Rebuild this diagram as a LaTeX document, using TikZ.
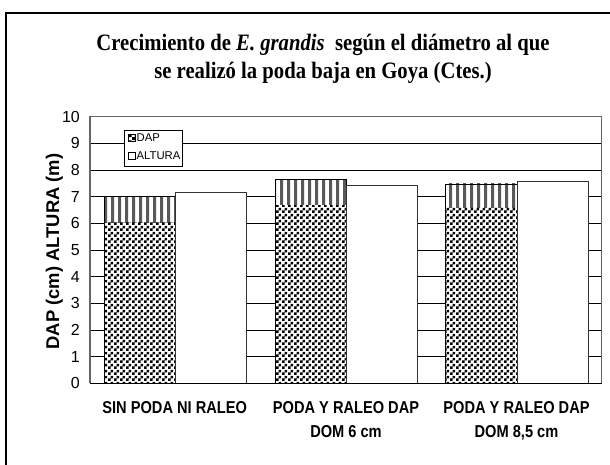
\documentclass[tikz,border=0pt]{standalone}
\usepackage{fontspec}
\usetikzlibrary{patterns}
\newfontfamily\tserif{Liberation Serif}[FakeStretch=0.88]
\newfontfamily\tsans{Liberation Sans}[FakeStretch=0.85]
\newfontfamily\tsansr{Liberation Sans}
\pgfdeclarepatternformonly{chk}{\pgfpointorigin}{\pgfpoint{6pt}{6pt}}{\pgfpoint{6pt}{6pt}}{%
 \pgfpathrectangle{\pgfpointorigin}{\pgfpoint{3pt}{3pt}}%
 \pgfpathrectangle{\pgfpoint{3pt}{3pt}}{\pgfpoint{3pt}{3pt}}%
 \pgfusepath{fill}}
\pgfdeclarepatternformonly{vstr}{\pgfpointorigin}{\pgfpoint{6.5pt}{1pt}}{\pgfpoint{6.5pt}{1pt}}{%
 \pgfpathrectangle{\pgfpointorigin}{\pgfpoint{3.4pt}{1pt}}\pgfusepath{fill}}
\tikzset{
  grid line/.style={black, line width=0.8pt},
  axis gray/.style={draw=black!60, line width=1.3pt},
  tick label/.style={anchor=east, inner sep=0pt, font=\tsansr\fontsize{16}{18}\selectfont},
  cat label/.style={align=center, inner sep=0pt, font=\tsans\bfseries\fontsize{17.2}{24}\selectfont},
  dap bar/.style={preaction={fill=white}, pattern=chk, pattern color=black},
  top bar/.style={preaction={fill=white}, pattern=vstr, pattern color=black},
  bar outline/.style={draw=black, line width=0.8pt},
  alt bar/.style={fill=white, draw=black!80, line width=0.9pt},
  legend text/.style={anchor=west, inner sep=0pt, font=\tsansr\fontsize{11.3}{13}\selectfont},
}
\begin{document}
\begin{tikzpicture}[x=1pt,y=1pt]
\useasboundingbox (0,0) rectangle (610,464);
\fill[white] (0,0) rectangle (610,464);
% outer frame (cropped)
\draw[line width=2.2pt] (6,-10) -- (6,451) -- (620,451);
% title
\node[align=center, inner sep=0pt, font=\tserif\bfseries\fontsize{23.5}{27.5}\selectfont] (title) at (323,405)
  {Crecimiento de \textit{E. grandis}\ \ según el diámetro al que\\se realizó la poda baja en Goya (Ctes.)};
% y axis title
\node[rotate=90, anchor=base, inner sep=0pt, font=\tsansr\bfseries\fontsize{18.4}{20}\selectfont] (ytitle) at (59,212.5) {DAP (cm) ALTURA (m)};
\begin{scope}[yshift=80.6pt, y=26.67pt]
  \foreach \v in {1,...,9} \draw[grid line] (90,\v) -- (601.7,\v);
  \foreach \v in {0,...,10} \node[tick label] (t\v) at (80,\v) {\v};
  % bars group 1
  \fill[dap bar] (104.3,0) rectangle (175,6.05);
  \fill[top bar] (104.3,6.05) rectangle (175,7.0);
  \draw[bar outline] (104.3,0) rectangle (175,7.0);
  \draw[alt bar] (175,0) rectangle (246,7.17);
  % group 2
  \fill[dap bar] (275,0) rectangle (346.3,6.69);
  \fill[top bar] (275,6.69) rectangle (346.3,7.65);
  \draw[bar outline] (275,0) rectangle (346.3,7.65);
  \draw[alt bar] (346.3,0) rectangle (417,7.41);
  % group 3
  \fill[dap bar] (445.7,0) rectangle (517,6.6);
  \fill[top bar] (445.7,6.6) rectangle (517,7.48);
  \draw[bar outline] (445.7,0) rectangle (517,7.48);
  \draw[alt bar] (517,0) rectangle (588,7.56);
  % plot frame
  \draw[axis gray] (90,0) -- (90,10) -- (601.7,10) -- (601.7,0);
  \draw[black, line width=1.1pt] (90,0) -- (601.7,0);
\end{scope}
% legend
\draw[fill=white, draw=black, line width=0.8pt] (124.5,334) rectangle (182,298);
\fill[dap bar] (128,322.5) rectangle (135,329.5);
\draw[black, line width=0.6pt] (128,322.5) rectangle (135,329.5);
\node[legend text] (lgdap) at (136.5,326) {DAP};
\draw[fill=white, draw=black, line width=0.6pt] (128,304.5) rectangle (135,311.5);
\node[legend text] (lgalt) at (136.5,308) {ALTURA};
% category labels
\node[cat label] (c1) at (174.7,56) {SIN PODA NI RALEO};
\node[cat label, anchor=north] (c2) at (346,62.3) {PODA Y RALEO DAP\\DOM 6 cm};
\node[cat label, anchor=north] (c3) at (516.5,62.3) {PODA Y RALEO DAP\\DOM 8,5 cm};
\end{tikzpicture}
\end{document}
